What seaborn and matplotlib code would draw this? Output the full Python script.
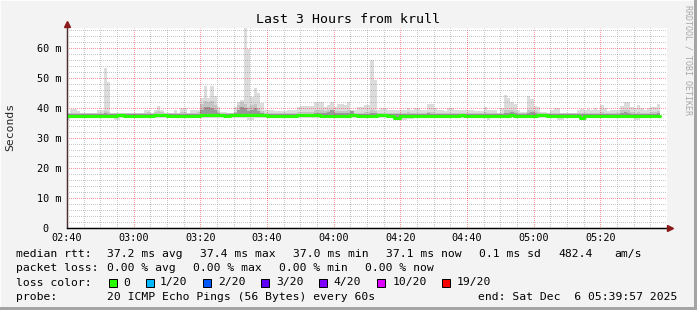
import numpy as np
import pandas as pd
import matplotlib
matplotlib.use("Agg")
import matplotlib.pyplot as plt
import seaborn as sns
from matplotlib.patches import Rectangle
from matplotlib.ticker import MultipleLocator
from matplotlib.lines import Line2D

# ---------------- data (per-minute samples starting 02:40) ----------------
smoke_max = [
    38.0, 39.7, 39.7, 39.0, 38.3, 38.3, 38.3, 38.0, 38.0, 39.3,
    39.3, 53.2, 48.7, 38.4, 38.4, 38.0, 38.0, 38.0, 38.0, 38.0,
    38.3, 38.3, 38.3, 39.3, 39.3, 38.3, 39.3, 40.7, 39.3, 38.5,
    38.5, 38.5, 39.3, 38.3, 40.0, 40.0, 38.5, 39.3, 39.3, 39.5,
    43.3, 47.3, 43.3, 47.3, 44.0, 40.3, 38.7, 38.7, 38.0, 38.3,
    40.3, 42.1, 42.7, 66.6, 59.6, 43.6, 46.6, 45.1, 41.7, 39.3,
    39.3, 39.3, 39.0, 39.0, 39.0, 39.0, 39.3, 39.3, 39.3, 40.3,
    40.7, 40.7, 40.7, 40.7, 42.0, 42.0, 42.0, 40.3, 41.0, 42.0,
    40.3, 41.2, 41.2, 41.0, 42.0, 39.3, 39.3, 40.3, 40.3, 41.0,
    41.0, 56.0, 49.3, 39.3, 40.0, 40.0, 39.3, 39.3, 39.3, 39.3,
    39.3, 39.3, 40.0, 39.3, 40.0, 40.0, 39.3, 39.3, 41.3, 41.3,
    40.0, 39.3, 39.3, 39.0, 40.0, 40.0, 39.3, 39.3, 39.3, 39.5,
    39.5, 39.3, 39.0, 39.0, 39.0, 40.3, 39.5, 39.3, 39.3, 38.3,
    40.0, 44.3, 43.2, 42.0, 41.3, 39.3, 38.7, 38.7, 44.0, 43.0,
    40.7, 40.3, 38.7, 38.7, 38.3, 39.3, 40.0, 40.0, 38.5, 38.5,
    38.5, 38.5, 38.5, 39.3, 39.7, 39.3, 39.7, 39.3, 40.0, 39.3,
    41.0, 40.0, 39.0, 39.3, 39.3, 39.3, 40.7, 42.0, 42.0, 40.3,
    40.0, 41.0, 40.0, 39.5, 40.0, 40.3, 40.3, 41.3,
]
smoke_mid = [
    38.4, 38.5, 38.5, 38.3, 38.3, 38.3, 38.3, 38.2, 38.2, 38.4,
    38.4, 39.0, 38.8, 38.3, 38.3, 38.2, 38.2, 38.2, 38.2, 38.2,
    38.3, 38.3, 38.3, 38.5, 38.6, 38.3, 38.6, 39.0, 38.6, 38.3,
    38.3, 38.3, 38.5, 38.3, 38.8, 38.8, 38.3, 38.5, 38.5, 38.8,
    41.5, 42.5, 42.0, 42.5, 41.0, 39.0, 38.4, 38.4, 38.3, 38.3,
    38.8, 41.0, 42.0, 41.5, 40.5, 41.0, 41.5, 40.0, 39.0, 38.5,
    38.5, 38.5, 38.5, 38.5, 38.5, 38.5, 38.5, 38.5, 38.5, 38.8,
    38.8, 38.8, 38.8, 38.8, 39.3, 39.3, 39.3, 39.0, 39.3, 39.5,
    39.0, 39.0, 39.0, 39.0, 39.3, 38.8, 38.5, 38.5, 38.5, 38.6,
    38.6, 39.5, 39.0, 38.3, 38.5, 38.5, 38.3, 38.3, 38.3, 38.3,
    38.3, 38.3, 38.8, 38.3, 38.5, 38.5, 38.3, 38.3, 38.8, 38.8,
    38.5, 38.3, 38.3, 38.3, 38.5, 38.5, 38.3, 38.3, 38.3, 38.4,
    38.4, 38.3, 38.3, 38.3, 38.3, 38.6, 38.4, 38.3, 38.3, 38.2,
    38.5, 39.3, 39.3, 39.3, 39.0, 38.4, 38.3, 38.3, 39.5, 39.5,
    39.0, 38.6, 38.3, 38.3, 38.2, 38.4, 38.5, 38.5, 38.3, 38.3,
    38.3, 38.3, 38.3, 38.4, 38.5, 38.4, 38.5, 38.4, 38.5, 38.4,
    38.8, 38.5, 38.3, 38.4, 38.4, 38.4, 39.3, 39.3, 39.3, 38.6,
    38.5, 38.8, 38.5, 38.4, 38.5, 38.6, 38.6, 39.0,
]
smoke_dark = [
    37.9, 37.9, 37.9, 37.9, 37.9, 37.9, 37.9, 37.9, 37.9, 37.9,
    37.9, 38.2, 38.0, 37.9, 37.9, 37.9, 37.9, 37.9, 37.9, 37.9,
    37.9, 37.9, 37.9, 37.9, 37.9, 37.9, 38.0, 38.1, 37.9, 37.9,
    37.9, 37.9, 37.9, 37.9, 38.0, 38.0, 37.9, 37.9, 37.9, 38.0,
    39.5, 40.5, 40.5, 40.0, 39.5, 38.3, 37.9, 37.9, 37.9, 37.9,
    38.2, 39.5, 40.5, 40.0, 39.0, 39.5, 40.0, 39.0, 38.3, 38.0,
    37.9, 37.9, 37.9, 37.9, 37.9, 37.9, 37.9, 37.9, 37.9, 38.0,
    38.0, 38.0, 38.0, 38.0, 38.5, 38.5, 38.5, 38.2, 38.6, 39.3,
    38.3, 38.2, 38.2, 38.2, 38.4, 39.0, 38.0, 37.9, 37.9, 38.0,
    38.0, 38.4, 38.2, 37.9, 37.9, 37.9, 37.9, 37.9, 37.9, 37.9,
    37.9, 37.9, 38.0, 37.9, 37.9, 37.9, 37.9, 37.9, 38.2, 38.0,
    37.9, 37.9, 37.9, 37.9, 37.9, 37.9, 37.9, 37.9, 37.9, 37.9,
    37.9, 37.9, 37.9, 37.9, 37.9, 37.9, 37.9, 37.9, 37.9, 37.9,
    37.9, 38.3, 38.4, 38.6, 38.2, 37.9, 37.9, 37.9, 38.4, 38.6,
    38.2, 37.9, 37.9, 37.9, 37.9, 37.9, 37.9, 37.9, 37.9, 37.9,
    37.9, 37.9, 37.9, 37.9, 37.9, 37.9, 37.9, 37.9, 37.9, 37.9,
    38.0, 37.9, 37.9, 37.9, 37.9, 37.9, 38.4, 38.6, 38.4, 37.9,
    37.9, 38.0, 37.9, 37.9, 37.9, 37.9, 37.9, 38.3,
]
smoke_min = [
    36.0, 36.7, 36.7, 36.7, 36.7, 36.7, 36.7, 36.7, 36.7, 36.7,
    36.7, 36.7, 36.7, 36.7, 36.0, 36.0, 36.7, 36.7, 36.7, 36.7,
    36.7, 36.7, 36.7, 36.7, 36.7, 36.7, 36.7, 36.7, 36.7, 36.7,
    36.7, 36.7, 36.7, 36.7, 36.7, 36.7, 36.7, 36.7, 36.7, 36.7,
    36.7, 36.7, 36.7, 36.7, 36.7, 36.7, 36.7, 36.7, 36.7, 36.7,
    36.7, 36.7, 36.7, 36.7, 36.0, 36.0, 36.7, 36.7, 36.7, 36.7,
    36.7, 36.7, 36.7, 36.7, 36.7, 36.7, 36.7, 36.7, 36.7, 36.7,
    36.7, 36.7, 36.7, 36.7, 36.7, 36.7, 36.7, 36.7, 36.7, 36.7,
    36.7, 36.7, 36.7, 36.7, 36.7, 36.7, 36.7, 36.7, 36.7, 36.7,
    36.7, 36.7, 36.7, 36.7, 36.7, 36.7, 36.7, 36.7, 36.0, 36.0,
    36.0, 36.0, 36.2, 36.2, 36.7, 36.7, 36.7, 36.7, 36.7, 36.7,
    36.7, 36.7, 36.7, 36.7, 36.7, 36.7, 36.7, 36.7, 36.7, 36.7,
    36.7, 36.7, 36.7, 36.7, 36.7, 36.7, 36.0, 36.7, 36.7, 36.7,
    36.7, 36.7, 36.7, 36.7, 36.7, 36.7, 36.7, 36.7, 36.7, 36.7,
    36.7, 36.7, 36.7, 36.7, 36.7, 36.7, 36.7, 36.0, 36.0, 36.7,
    36.7, 36.7, 36.7, 36.7, 36.0, 36.0, 36.7, 36.7, 36.7, 36.7,
    36.7, 36.7, 36.7, 36.7, 36.7, 36.7, 36.7, 36.7, 36.7, 36.7,
    36.0, 36.0, 36.7, 36.7, 36.7, 36.7, 36.7, 36.7,
]
median_rtt = [
    37.2, 37.2, 37.2, 37.2, 37.2, 37.2, 37.2, 37.2, 37.2, 37.2,
    37.2, 37.2, 37.2, 37.2, 37.2, 37.6, 37.6, 37.2, 37.2, 37.2,
    37.2, 37.2, 37.2, 37.2, 37.2, 37.2, 37.6, 37.6, 37.6, 37.6,
    37.2, 37.2, 37.2, 37.2, 37.2, 37.2, 37.2, 37.2, 37.2, 37.2,
    37.7, 37.7, 37.7, 37.7, 37.7, 37.7, 37.7, 37.2, 37.2, 37.6,
    37.6, 37.6, 37.6, 37.6, 37.6, 37.6, 37.6, 37.6, 37.6, 37.6,
    37.2, 37.2, 37.2, 37.2, 37.2, 37.2, 37.2, 37.2, 37.2, 37.6,
    37.6, 37.6, 37.6, 37.6, 37.6, 37.6, 37.2, 37.2, 37.2, 37.2,
    37.5, 37.2, 37.2, 37.2, 37.2, 37.6, 37.6, 37.2, 37.2, 37.2,
    37.2, 37.2, 37.2, 37.6, 37.6, 37.6, 37.2, 37.2, 36.8, 36.8,
    37.2, 37.2, 37.2, 37.2, 37.2, 37.2, 37.2, 37.2, 37.2, 37.2,
    37.2, 37.2, 37.2, 37.2, 37.2, 37.2, 37.2, 37.2, 37.6, 37.2,
    37.2, 37.2, 37.2, 37.2, 37.2, 37.2, 37.2, 37.2, 37.2, 37.2,
    37.2, 37.2, 37.2, 37.6, 37.2, 37.2, 37.2, 37.2, 37.2, 37.2,
    37.2, 37.6, 37.6, 37.6, 37.2, 37.2, 37.2, 37.2, 37.2, 37.2,
    37.2, 37.2, 37.2, 37.2, 36.8, 37.2, 37.2, 37.2, 37.2, 37.2,
    37.2, 37.2, 37.2, 37.2, 37.2, 37.2, 37.2, 37.2, 37.2, 37.2,
    37.2, 37.2, 37.2, 37.2, 37.2, 37.2, 37.2, 37.2,
]
inner_low = 36.9
minutes = list(range(len(median_rtt)))

x_tick_minutes = [0, 20, 40, 60, 80, 100, 120, 140, 160]
x_tick_labels = ["02:40", "03:00", "03:20", "03:40", "04:00", "04:20", "04:40", "05:00", "05:20"]
y_ticks = [0, 10, 20, 30, 40, 50, 60]
y_tick_labels = ["0  ", "10 m", "20 m", "30 m", "40 m", "50 m", "60 m"]

loss_labels = ["0", "1/20", "2/20", "3/20", "4/20", "10/20", "19/20"]
loss_colors = ["#26ff00", "#00b8ff", "#0059ff", "#5e00ff", "#7e00ff", "#dd00ff", "#ff0000"]

title = "Last 3 Hours from krull"

# ---------------- figure ----------------
sns.set_style("white")
MONO = "DejaVu Sans Mono"
plt.rcParams["font.family"] = [MONO, "DejaVu Sans"]

W, H = 697, 310
fig = plt.figure(figsize=(W / 100, H / 100), dpi=100, facecolor="#f3f3f3")

def fx(px):
    return px / W

def fy(py):
    return 1 - py / H

ax = fig.add_axes([fx(67), fy(228), 600 / W, 200 / H])
ax.set_facecolor("white")
ax.set_xlim(0, 180)
ax.set_ylim(0, 200 / 3)

df = pd.DataFrame({"minute": minutes, "median": median_rtt, "max": smoke_max,
                   "mid": smoke_mid, "dark": smoke_dark, "min": smoke_min})
last = df.iloc[[-1]].copy()
last["minute"] = last["minute"] + 1
dfs = pd.concat([df, last], ignore_index=True)

ax.fill_between(dfs["minute"], dfs["min"], dfs["max"], step="post", color="#dcdcdc", lw=0, zorder=2)
ax.fill_between(dfs["minute"], inner_low, dfs["mid"], step="post", color="#c4c4c4", lw=0, zorder=2.1)
ax.fill_between(dfs["minute"], inner_low, dfs["dark"], step="post", color="#999999", lw=0, zorder=2.2)

sns.lineplot(data=dfs, x="minute", y="median", ax=ax, color="#26ff00", lw=2.2,
             drawstyle="steps-post", zorder=3, estimator=None, legend=False)

# grid (semi-transparent dotted, over the graph like RRDtool)
ax.xaxis.set_major_locator(matplotlib.ticker.FixedLocator(x_tick_minutes))
ax.xaxis.set_minor_locator(MultipleLocator(5))
ax.yaxis.set_major_locator(matplotlib.ticker.FixedLocator(y_ticks))
ax.yaxis.set_minor_locator(MultipleLocator(2))
ax.set_xticklabels(x_tick_labels)
ax.set_yticklabels(y_tick_labels)
ax.set_axisbelow(False)
DOT = (0.5, (1, 1))
ax.grid(which="minor", color="#808080", alpha=0.42, lw=0.72, ls=DOT)
ax.grid(which="major", color="#ff0000", alpha=0.40, lw=0.72, ls=DOT)

ax.tick_params(axis="x", which="major", length=2, width=0.72, color="#ff9999",
               pad=1.6, labelsize=7.3, labelcolor="black")
ax.tick_params(axis="x", which="minor", length=1.5, width=0.72, color="#cccccc")
ax.tick_params(axis="y", which="both", length=0, pad=4.2, labelsize=7.3, labelcolor="black")
for lab in ax.get_xticklabels() + ax.get_yticklabels():
    lab.set_fontfamily(MONO)

for s in ["top", "right"]:
    ax.spines[s].set_visible(False)
ax.spines["left"].set_color("#4a3030")
ax.spines["left"].set_linewidth(0.9)
ax.spines["bottom"].set_color("black")
ax.spines["bottom"].set_linewidth(0.9)
ax.set_xlabel("")
ax.set_ylabel("")

# axis arrows
fig.add_artist(Line2D([fx(67.2), fx(67.2)], [fy(228), fy(24)], color="#4a3030", lw=0.9))
fig.add_artist(Line2D([fx(67), fx(670)], [fy(228), fy(228)], color="black", lw=0.9))
fig.add_artist(Line2D([fx(67.2)], [fy(24)], marker="^", markersize=5, color="#8b1a1a", lw=0))
fig.add_artist(Line2D([fx(670)], [fy(228)], marker=">", markersize=5, color="#8b1a1a", lw=0))

# titles
fig.text(fx(348.5), fy(19.5), title, ha="center", va="center", fontsize=9.5, family=MONO, color="black")
fig.text(fx(10.5), fy(127), "Seconds", rotation=90, ha="center", va="center", fontsize=8.2, family=MONO)
fig.text(fx(688), fy(60), "RRDTOOL / TOBI OETIKER", rotation=270, ha="center", va="center",
         fontsize=6, family=MONO, color="#a8a8a8")

# legend
LS = 8.2
def lt(x, y, s):
    fig.text(fx(x), fy(y), s, ha="left", va="center", fontsize=LS, family=MONO, color="black")

y1, y2, y3, y4 = 254.3, 268.3, 282.5, 296.5
lt(16, y1, "median rtt:")
lt(107.3, y1, "37.2 ms avg")
lt(200, y1, "37.4 ms max")
lt(292.7, y1, "37.0 ms min")
lt(386, y1, "37.1 ms now")
lt(479.3, y1, "0.1 ms sd")
lt(558.3, y1, "482.4")
lt(614.3, y1, "am/s")

lt(16, y2, "packet loss:")
lt(107.3, y2, "0.00 % avg")
lt(193.3, y2, "0.00 % max")
lt(279.3, y2, "0.00 % min")
lt(365, y2, "0.00 % now")

lt(16, y3, "loss color:")
box_x = [108.7, 145.7, 203.3, 261.0, 319.3, 377.3, 442.3]
lab_x = [123.3, 160.0, 217.7, 276.0, 333.3, 392.3, 456.7]
for bx, lx, lab, col in zip(box_x, lab_x, loss_labels, loss_colors):
    fig.add_artist(Rectangle((fx(bx), fy(y3 + 4)), 8 / W, 8 / H, transform=fig.transFigure,
                             facecolor=col, edgecolor="black", lw=0.72))
    lt(lx, y3, lab)

lt(16, y4, "probe:")
lt(107.3, y4, "20 ICMP Echo Pings (56 Bytes) every 60s")
lt(478.3, y4, "end: Sat Dec  6 05:39:57 2025")

# frame
fig.add_artist(Rectangle((0, 0), 1, 3 / H, transform=fig.transFigure, facecolor="#a4a4a4", lw=0))
fig.add_artist(Rectangle((1 - 3 / W, 0), 3 / W, 1, transform=fig.transFigure, facecolor="#a4a4a4", lw=0))
fig.add_artist(Rectangle((0, 1 - 1 / H), 1 - 3 / W, 1 / H, transform=fig.transFigure, facecolor="#fcfcfc", lw=0))
fig.add_artist(Rectangle((0, 3 / H), 1 / W, 1, transform=fig.transFigure, facecolor="#fcfcfc", lw=0))

fig.savefig("out.png", dpi=100, facecolor=fig.get_facecolor())
